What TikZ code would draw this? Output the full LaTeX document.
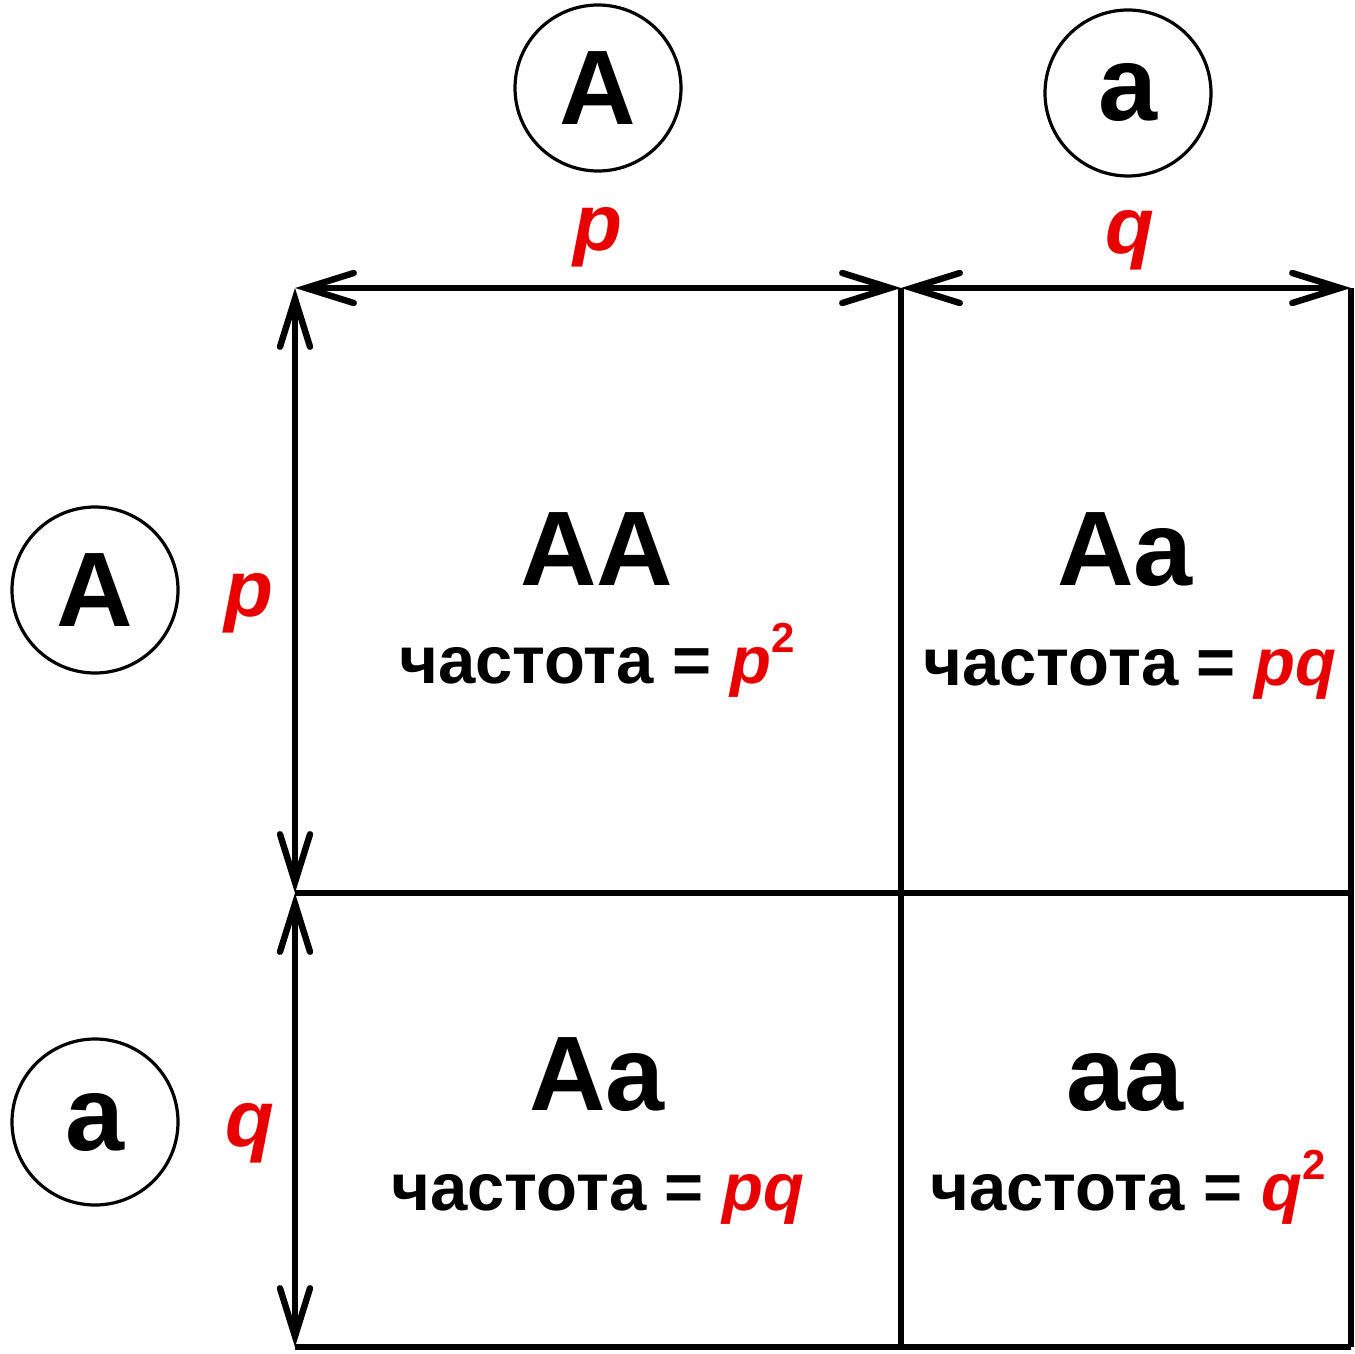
\documentclass[tikz,border=0pt]{standalone}
\usepackage{fontspec}
\setmainfont{Liberation Sans}
\usetikzlibrary{arrows.meta}
\definecolor{freqred}{RGB}{232,0,0}
\newcommand\rv[1]{{\color{freqred}\itshape #1}}
\newcommand\sqd{{\color{freqred}\raisebox{.85ex}{\fontsize{21}{21}\selectfont 2}}}
\tikzset{
  allele/.style={circle,draw,line width=1.6pt,minimum size=83pt,inner sep=0pt,
    font=\fontsize{53}{60}\selectfont\bfseries},
  geno/.style={anchor=base,inner sep=0pt,font=\fontsize{53}{60}\selectfont\bfseries},
  freq/.style={anchor=base,inner sep=0pt,font=\fontsize{33.5}{38}\selectfont\bfseries},
  share/.style={anchor=base,inner sep=0pt,text=freqred,font=\fontsize{40}{46}\selectfont\bfseries\itshape},
  grid/.style={line width=2.8pt},
  span/.style={line width=3.2pt,line cap=round,{Straight Barb[length=24pt,width=15pt,line cap=round]}-{Straight Barb[length=24pt,width=15pt,line cap=round]}}
}
\begin{document}
\begin{tikzpicture}[x=.5pt,y=-.5pt]
  \useasboundingbox (0,0) rectangle (1355,1354);
  % corners of the square
  \coordinate (tl) at (295,288); \coordinate (tm) at (901,288); \coordinate (tr) at (1351,288);
  \coordinate (ml) at (295,893); \coordinate (mm) at (901,893); \coordinate (mr) at (1351,893);
  \coordinate (bl) at (295,1347); \coordinate (bm) at (901,1347); \coordinate (br) at (1351,1347);
  \draw[grid] (tm)--(bm) (tr)--(br) (ml)--(mr) (bl)--(br);
  \draw[span] (tl)--(tm); \draw[span] (tm)--(tr);
  \draw[span] (tl)--(ml); \draw[span] (ml)--(bl);
  % alleles and their shares
  \node[allele] (topA) at (598,88) {A}; \node[allele] (topa) at (1128,93) {a};
  \node[allele] (leftA) at (95,590) {A}; \node[allele] (lefta) at (95,1122) {a};
  \node[share] (pt) at (598,250) {p}; \node[share] (qt) at (1130,253) {q};
  \node[share] (pl) at (249,616) {p}; \node[share] (ql) at (250,1146) {q};
  % genotypes
  \node[geno] (AA) at (597,585) {AA}; \node[freq] (fAA) at (597,683) {частота = \rv{p}\sqd};
  \node[geno] (Aa1) at (1125,585) {Aa}; \node[freq] (fAa1) at (1130,685) {частота = \rv{pq}};
  \node[geno] (Aa2) at (597,1110) {Aa}; \node[freq] (fAa2) at (598,1210) {частота = \rv{pq}};
  \node[geno] (aa) at (1125,1110) {aa}; \node[freq] (faa) at (1128,1210) {частота = \rv{q}\sqd};
\end{tikzpicture}
\end{document}
